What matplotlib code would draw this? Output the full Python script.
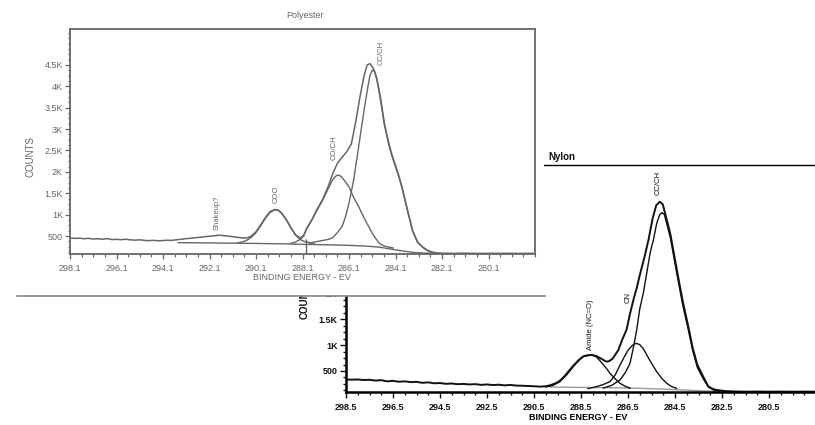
import matplotlib
matplotlib.use("Agg")
import matplotlib.pyplot as plt
from matplotlib.patches import Rectangle
from matplotlib.lines import Line2D
from matplotlib.transforms import Bbox, TransformedBbox
from matplotlib.ticker import MultipleLocator, FixedLocator, FuncFormatter

plt.rcParams['font.family'] = ['Liberation Sans', 'DejaVu Sans']

# ---------------- Polyester (C 1s) ----------------
pe_env_ev = [298.1, 297.9, 297.7, 297.5, 297.3, 297.1, 296.9, 296.7, 296.5, 296.3,
             296.1, 295.9, 295.7, 295.5, 295.3, 295.1, 294.9, 294.7, 294.5, 294.3,
             294.1, 293.9, 293.7, 293.5, 293.3, 293.1, 292.9, 292.7, 292.5, 292.3,
             292.1, 291.9, 291.7, 291.5, 291.3, 291.1, 290.9, 290.7,
             290.5, 290.3, 290.1, 289.9, 289.7, 289.5, 289.3, 289.15, 289.0, 288.8,
             288.6, 288.4, 288.2, 288.05, 287.9, 287.7, 287.5, 287.25, 287.0, 286.8,
             286.6, 286.4, 286.2, 286.0, 285.8, 285.63, 285.45, 285.32,
             285.2, 285.05, 284.9, 284.75, 284.58, 284.4, 284.28, 284.1, 283.95, 283.82,
             283.6, 283.37, 283.15, 282.92, 282.7, 282.5, 282.3, 282.0, 281.6, 281.2,
             280.8, 280.4, 280.0, 279.6, 279.2, 278.8, 278.4, 278.1]
pe_env_counts = [455, 445, 450, 438, 446, 430, 436, 425, 440, 418,
                 422, 415, 425, 410, 404, 412, 398, 392, 400, 388,
                 395, 402, 398, 415, 425, 440, 448, 462, 470, 485,
                 495, 505, 520, 510, 498, 485, 470, 455,
                 455, 500, 600, 760, 930, 1070, 1120, 1110, 1040, 890,
                 700, 530, 455, 520, 700, 880, 1100, 1340, 1650, 1960,
                 2200, 2340, 2470, 2650, 3200, 3750, 4250, 4500,
                 4530, 4420, 4180, 3750, 3140, 2700, 2450, 2150, 1900, 1650,
                 1150, 640, 360, 240, 160, 120, 105, 98, 95, 100,
                 96, 94, 97, 95, 96, 94, 95, 95]

pe_coo_ev = [290.9, 290.7, 290.5, 290.3, 290.1, 289.9, 289.7, 289.5, 289.3,
             289.15, 289.0, 288.8, 288.6, 288.4, 288.2, 288.0, 287.8, 287.6]
pe_coo_counts = [340, 360, 400, 470, 580, 740, 910, 1050, 1110,
                 1100, 1030, 880, 690, 520, 420, 370, 345, 335]

pe_coch_ev = [288.6, 288.4, 288.2, 288.05, 287.9, 287.7, 287.5, 287.25, 287.0,
              286.8, 286.65, 286.57, 286.45, 286.3, 286.1, 285.9, 285.68, 285.45,
              285.25, 285.05, 284.8, 284.6, 284.4, 284.2]
pe_coch_counts = [330, 360, 420, 500, 690, 870, 1080, 1320, 1600,
                  1820, 1910, 1925, 1900, 1800, 1650, 1400, 1185, 920,
                  717, 520, 330, 270, 240, 220]

pe_ccch_ev = [287.8, 287.5, 287.2, 287.0, 286.8, 286.6, 286.4, 286.25, 286.1,
              285.9, 285.75, 285.6, 285.45, 285.3, 285.2, 285.1, 285.0, 284.9,
              284.75, 284.58, 284.4, 284.28, 284.1, 283.95, 283.82, 283.6, 283.37,
              283.15, 282.92, 282.7, 282.5]
pe_ccch_counts = [330, 370, 400, 420, 460, 580, 720, 950, 1270,
                  1810, 2350, 2900, 3450, 3950, 4250, 4380, 4350, 4150,
                  3700, 3100, 2660, 2420, 2120, 1870, 1620, 1120, 620,
                  350, 230, 150, 115]

pe_bg_ev = [293.45, 292.0, 290.5, 289.0, 288.0, 287.0, 286.0, 285.3, 284.8,
            284.3, 283.8, 283.3, 282.8, 282.3]
pe_bg_counts = [345, 338, 330, 318, 305, 295, 280, 262, 240,
                195, 150, 115, 100, 95]

pe_marker_ev = 287.94
pe_xticks = [298.1, 296.1, 294.1, 292.1, 290.1, 288.1, 286.1, 284.1, 282.1, 280.1]
pe_yticks = [500, 1000, 1500, 2000, 2500, 3000, 3500, 4000, 4500]
pe_peaks = [("Shakeup?", 291.78, 640), ("COO", 289.25, 1270),
            ("CO/CH", 286.75, 2275), ("CC/CH", 284.73, 4495)]

# ---------------- Nylon (C 1s) ----------------
ny_env_ev = [298.5, 298.25, 298.0, 297.75, 297.5, 297.25, 297.0, 296.75, 296.5, 296.25,
             296.0, 295.75, 295.5, 295.25, 295.0, 294.75, 294.5, 294.25, 294.0, 293.75,
             293.5, 293.25, 293.0, 292.75, 292.5, 292.25, 292.0, 291.75, 291.5, 291.25,
             291.0, 290.75, 290.5, 290.25, 290.0,
             289.8, 289.6, 289.4, 289.2, 289.0, 288.83, 288.6, 288.4, 288.2, 288.05,
             287.85, 287.65, 287.5, 287.41, 287.3, 287.15, 286.91, 286.75, 286.56, 286.41,
             286.27, 286.12, 286.0, 285.8, 285.63, 285.45, 285.3, 285.15, 285.02, 284.85,
             284.7, 284.5, 284.36, 284.15, 283.93, 283.75, 283.55, 283.3, 283.08, 282.85,
             282.6, 282.35, 282.0, 281.5, 281.0, 280.5, 280.0, 279.5, 279.0, 278.5]
ny_env_counts = [335, 332, 336, 325, 330, 315, 322, 300, 310, 292,
                 300, 285, 290, 272, 280, 262, 268, 252, 258, 245,
                 250, 240, 246, 232, 240, 228, 235, 222, 230, 218,
                 215, 210, 205, 198, 205,
                 225, 260, 310, 400, 510, 600, 710, 785, 805, 810,
                 790, 740, 700, 680, 690, 740, 906, 1100, 1300, 1616,
                 1873, 2120, 2350, 2700, 3030, 3450, 3700, 3770, 3720, 3420,
                 3150, 2650, 2300, 1800, 1350, 950, 620, 390, 200, 145,
                 125, 112, 105, 100, 103, 100, 102, 100, 101, 100]

ny_ccch_ev = [287.55, 287.2, 286.84, 286.6, 286.41, 286.25, 286.13, 286.0, 285.85,
              285.7, 285.55, 285.42, 285.28, 285.15, 285.05, 284.95, 284.7, 284.5,
              284.36, 284.15, 283.93, 283.75, 283.55, 283.3, 283.08, 282.85, 282.6]
ny_ccch_counts = [170, 220, 326, 480, 655, 1000, 1293, 1700, 2000,
                  2400, 2800, 3030, 3350, 3520, 3560, 3520, 3080, 2580,
                  2230, 1730, 1290, 900, 570, 350, 190, 130, 110]

ny_cn_ev = [288.2, 287.9, 287.6, 287.27, 287.05, 286.84, 286.65, 286.49, 286.3,
            286.16, 286.0, 285.85, 285.7, 285.5, 285.28, 285.05, 284.85, 284.65, 284.43]
ny_cn_counts = [160, 190, 230, 293, 420, 616, 780, 906, 1000,
                1035, 1010, 930, 809, 650, 487, 350, 262, 200, 165]

ny_amide_ev = [290.0, 289.7, 289.4, 289.1, 288.83, 288.6, 288.4, 288.2, 288.05,
               287.85, 287.6, 287.4, 287.27, 287.05, 286.84, 286.6, 286.41]
ny_amide_counts = [190, 220, 293, 430, 583, 700, 777, 800, 809,
                   775, 650, 540, 455, 350, 262, 200, 170]

ny_bg_ev = [289.8, 289.0, 288.0, 287.0, 286.0, 285.0, 284.0, 283.3, 282.6]
ny_bg_counts = [190, 185, 180, 175, 165, 150, 130, 115, 105]

ny_xticks = [298.5, 296.5, 294.5, 292.5, 290.5, 288.5, 286.5, 284.5, 282.5, 280.5]
ny_yticks = [500, 1000, 1500, 2000, 2500, 3000, 3500, 4000]
ny_peaks = [("Amide (NC=O)", 288.09, 906), ("CN", 286.49, 1810), ("CC/CH", 285.21, 3904)]

W, H = 815, 425
PE_GRAY = '#666666'
NY_BLACK = '#111111'


def kfmt(v, pos):
    if v < 1000:
        return '%d' % v
    return '%gK' % (v / 1000)


def box(x0, y0, x1, y1):
    # pixel box (top-left origin) -> figure fraction rect
    return [x0 / W, 1 - y1 / H, (x1 - x0) / W, (y1 - y0) / H]


fig = plt.figure(figsize=(W / 100, H / 100), dpi=100)

# ---- nylon panel, lies underneath ----
ax2 = fig.add_axes(box(346, 165, 816, 392), zorder=1)
ax2.plot(ny_bg_ev, ny_bg_counts, color='#9a9a9a', lw=1.0)
ax2.plot(ny_amide_ev, ny_amide_counts, color=NY_BLACK, lw=1.0)
ax2.plot(ny_cn_ev, ny_cn_counts, color=NY_BLACK, lw=1.0)
ax2.plot(ny_ccch_ev, ny_ccch_counts, color=NY_BLACK, lw=1.0)
ax2.plot(ny_env_ev, ny_env_counts, color=NY_BLACK, lw=1.4)
for name, ev, c in ny_peaks:
    ax2.text(ev, c, name, rotation=90, ha='center', va='bottom', fontsize=5.5, color=NY_BLACK)
ax2.set_xlim(298.5, 278.5)
ax2.set_ylim(94, 4480)
ax2.xaxis.set_major_locator(FixedLocator(ny_xticks))
ax2.xaxis.set_minor_locator(MultipleLocator(0.5, offset=0.5))
ax2.xaxis.set_major_formatter(FuncFormatter(lambda v, p: '%.1f' % v))
ax2.yaxis.set_major_locator(FixedLocator(ny_yticks))
ax2.yaxis.set_minor_locator(MultipleLocator(125))
ax2.yaxis.set_major_formatter(FuncFormatter(kfmt))
ax2.tick_params(which='both', direction='out', colors=NY_BLACK, labelsize=6.5, width=1.0)
ax2.tick_params(which='major', length=4)
ax2.tick_params(which='minor', length=2)
ax2.tick_params(axis='x', pad=4)
ax2.tick_params(axis='y', pad=2)
for lbl in ax2.get_xticklabels() + ax2.get_yticklabels():
    lbl.set_fontweight('bold')
ax2.spines['right'].set_visible(False)
ax2.spines['left'].set_linewidth(1.8)
ax2.spines['bottom'].set_linewidth(1.8)
ax2.spines['top'].set_linewidth(1.0)
ax2.set_xlabel('BINDING ENERGY - EV', fontsize=6.5, fontweight='bold', va='center')
ax2.xaxis.set_label_coords((578 - 346) / 470, -(418 - 392) / 227)
# the upper part of this label sits under the polyester print
ny_ylab = fig.text(305 / W, 1 - 319 / H, 'COUNTS', rotation=90, ha='center', va='bottom',
                   fontsize=7, fontweight='bold', color=NY_BLACK, zorder=2)
ny_ylab.set_clip_box(TransformedBbox(Bbox([[0, 0], [1, 1 - 296 / H]]), fig.transFigure))
ny_ylab.set_clip_on(True)
fig.text(548 / W, 1 - 157 / H, 'Nylon', ha='left', va='center',
         fontsize=7, fontweight='bold', color=NY_BLACK, zorder=2)

# ---- polyester panel, pasted on top ----
fig.add_artist(Rectangle((0, 1 - 296 / H), 544 / W, 296 / H, transform=fig.transFigure,
                         facecolor='white', edgecolor='none', zorder=5))
fig.add_artist(Line2D([17 / W, 545 / W], [1 - 296 / H, 1 - 296 / H], transform=fig.transFigure,
                      color='#8a8a8a', lw=1.2, zorder=5.5))

ax1 = fig.add_axes(box(70, 29, 535, 254), zorder=6)
ax1.plot(pe_bg_ev, pe_bg_counts, color=PE_GRAY, lw=1.0)
ax1.plot(pe_coo_ev, pe_coo_counts, color=PE_GRAY, lw=1.0)
ax1.plot(pe_coch_ev, pe_coch_counts, color=PE_GRAY, lw=1.0)
ax1.plot(pe_ccch_ev, pe_ccch_counts, color=PE_GRAY, lw=1.0)
ax1.plot(pe_env_ev, pe_env_counts, color=PE_GRAY, lw=1.1)
ax1.vlines(pe_marker_ev, 80, 430, color=PE_GRAY, lw=1.0)
for name, ev, c in pe_peaks:
    ax1.text(ev, c, name, rotation=90, ha='center', va='bottom', fontsize=5.5, color=PE_GRAY)
ax1.set_xlim(298.1, 278.1)
ax1.set_ylim(80, 5340)
ax1.xaxis.set_major_locator(FixedLocator(pe_xticks))
ax1.xaxis.set_minor_locator(MultipleLocator(0.5, offset=0.1))
ax1.xaxis.set_major_formatter(FuncFormatter(lambda v, p: '%.1f' % v))
ax1.yaxis.set_major_locator(FixedLocator(pe_yticks))
ax1.yaxis.set_minor_locator(MultipleLocator(125))
ax1.yaxis.set_major_formatter(FuncFormatter(kfmt))
ax1.tick_params(which='both', direction='out', colors=PE_GRAY, labelsize=6.5, width=0.9)
ax1.tick_params(which='major', length=3.5)
ax1.tick_params(which='minor', length=1.8)
ax1.tick_params(axis='x', pad=3.5)
ax1.tick_params(axis='y', pad=1.5)
for s in ax1.spines.values():
    s.set_color(PE_GRAY)
    s.set_linewidth(1.3)
ax1.set_xlabel('BINDING ENERGY - EV', fontsize=6.5, color=PE_GRAY, va='center')
ax1.xaxis.set_label_coords((302 - 70) / 465, -(278 - 254) / 225)
ax1.set_ylabel('COUNTS', fontsize=7, color=PE_GRAY, va='center')
ax1.yaxis.set_label_coords(-(70 - 30) / 465, (254 - 157) / 225)
fig.text(305 / W, 1 - 15 / H, 'Polyester', ha='center', va='center',
         fontsize=6.5, color=PE_GRAY, zorder=7)

fig.savefig('out.png', dpi=100, facecolor='white')
